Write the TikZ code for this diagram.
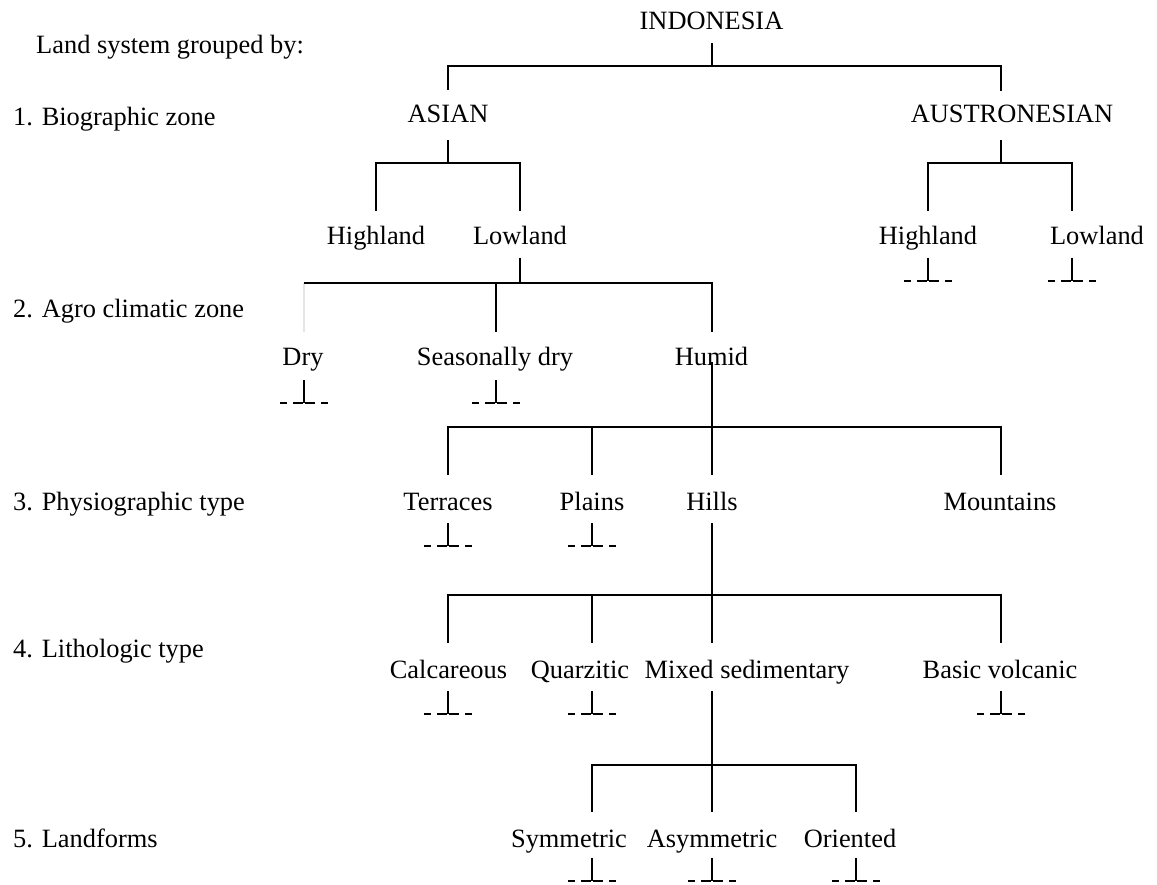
\documentclass[tikz,border=0pt]{standalone}
\usepackage{fontspec}
\setmainfont{Liberation Serif}
\tikzset{
  lbl/.style={anchor=base, inner sep=0pt, font=\fontsize{26.4}{30}\selectfont},
  lblw/.style={lbl, anchor=base west},
  conn/.style={line width=1.8pt, line join=miter},
  tickln/.style={line width=1.4pt},
  faint/.style={line width=1.8pt, draw=black!10}
}
\newcommand{\dashtick}[3]{%
  \coordinate (#1T) at (#2,#3);
  \coordinate (#1B) at (#2,#3+23);
  \coordinate (#1L1) at (#2-24,#3+23);
  \coordinate (#1L2) at (#2-17,#3+23);
  \coordinate (#1L3) at (#2-11,#3+23);
  \coordinate (#1L4) at (#2-1,#3+23);
  \coordinate (#1R4) at (#2+1,#3+23);
  \coordinate (#1R3) at (#2+11,#3+23);
  \coordinate (#1R2) at (#2+17,#3+23);
  \coordinate (#1R1) at (#2+24,#3+23);
  \draw[tickln] (#1T) -- (#1B);
  \draw[tickln] (#1L1) -- (#1L2);
  \draw[tickln] (#1L3) -- (#1L4);
  \draw[tickln] (#1R4) -- (#1R3);
  \draw[tickln] (#1R2) -- (#1R1);
}
\begin{document}
\begin{tikzpicture}[x=1pt,y=-1pt]
\useasboundingbox[fill=white] (0,0) rectangle (1157,885);

% level labels
\node[lblw] (hdr) at (36,54) {Land system grouped by:};
\node[lblw] (lv1) at (13,126) {1. Biographic zone};
\node[lblw] (lv2) at (13,318) {2. Agro climatic zone};
\node[lblw] (lv3) at (13,510) {3. Physiographic type};
\node[lblw] (lv4) at (13,657) {4. Lithologic type};
\node[lblw] (lv5) at (13,847) {5. Landforms};

% tree texts
\node[lbl] (indo) at (711.5,30) {INDONESIA};
\node[lbl] (asian) at (448,123) {ASIAN};
\node[lbl] (austro) at (1012,123) {AUSTRONESIAN};
\node[lbl] (ahigh) at (376,245) {Highland};
\node[lbl] (alow) at (520,245) {Lowland};
\node[lbl] (bhigh) at (928,245) {Highland};
\node[lbl] (blow) at (1097,245) {Lowland};
\node[lbl] (dry) at (303,366) {Dry};
\node[lbl] (sdry) at (495,366) {Seasonally dry};
\node[lbl] (humid) at (711.5,366) {Humid};
\node[lbl] (terr) at (448,510) {Terraces};
\node[lbl] (plains) at (592,510) {Plains};
\node[lbl] (hills) at (712,510) {Hills};
\node[lbl] (mount) at (1000,510) {Mountains};
\node[lbl] (calc) at (448.5,678) {Calcareous};
\node[lbl] (quar) at (580,678) {Quarzitic};
\node[lbl] (mixed) at (747,678) {Mixed sedimentary};
\node[lbl] (basic) at (1000,678) {Basic volcanic};
\node[lbl] (sym) at (569,847) {Symmetric};
\node[lbl] (asym) at (712,847) {Asymmetric};
\node[lbl] (ori) at (850,847) {Oriented};

% INDONESIA -> ASIAN / AUSTRONESIAN
\coordinate (indoS) at (712,43);
\coordinate (j1) at (712,66);
\coordinate (j1a) at (448,66);
\coordinate (j1b) at (1001,66);
\coordinate (asianN) at (448,90);
\coordinate (austroN) at (1001,91);
\draw[conn] (indoS) -- (j1);
\draw[conn] (asianN) -- (j1a) -- (j1b) -- (austroN);

% ASIAN -> Highland / Lowland
\coordinate (asianS) at (448,140);
\coordinate (ja) at (448,163);
\coordinate (ja1) at (376,163);
\coordinate (ja2) at (520,163);
\coordinate (ahighN) at (376,211);
\coordinate (alowN) at (520,211);
\draw[conn] (asianS) -- (ja);
\draw[conn] (ahighN) -- (ja1) -- (ja2) -- (alowN);

% AUSTRONESIAN -> Highland / Lowland
\coordinate (austroS) at (1001,140);
\coordinate (jb) at (1001,163);
\coordinate (jb1) at (928,163);
\coordinate (jb2) at (1072,163);
\coordinate (bhighN) at (928,211);
\coordinate (blowN) at (1072,211);
\draw[conn] (austroS) -- (jb);
\draw[conn] (bhighN) -- (jb1) -- (jb2) -- (blowN);
\dashtick{bhigh}{928}{258}
\dashtick{blow}{1072}{258}

% Lowland -> Dry / Seasonally dry / Humid
\coordinate (alowS) at (520,258);
\coordinate (j2) at (520,283);
\coordinate (j2a) at (304,283);
\coordinate (j2b) at (496,283);
\coordinate (j2c) at (712,283);
\coordinate (dryN) at (304,332);
\coordinate (sdryN) at (496,332);
\coordinate (humidN) at (712,332);
\draw[conn] (alowS) -- (j2);
\draw[faint] (j2a) -- (dryN);
\draw[conn] (j2a) -- (j2c) -- (humidN);
\draw[conn] (j2b) -- (sdryN);
\dashtick{dry}{304}{380}
\dashtick{sdry}{496}{380}

% Humid -> physiographic types
\coordinate (humidS) at (712,362);
\coordinate (j3) at (712,427);
\coordinate (j3a) at (448,427);
\coordinate (j3b) at (592,427);
\coordinate (j3d) at (1001,427);
\coordinate (terrN) at (448,475);
\coordinate (plainsN) at (592,475);
\coordinate (hillsN) at (712,475);
\coordinate (mountN) at (1001,475);
\draw[conn] (humidS) -- (j3) -- (hillsN);
\draw[conn] (terrN) -- (j3a) -- (j3d) -- (mountN);
\draw[conn] (j3b) -- (plainsN);
\dashtick{terr}{448}{523}
\dashtick{plains}{592}{523}

% Hills -> lithologic types
\coordinate (hillsS) at (712,523);
\coordinate (j4) at (712,595);
\coordinate (j4a) at (448,595);
\coordinate (j4b) at (592,595);
\coordinate (j4d) at (1001,595);
\coordinate (calcN) at (448,643);
\coordinate (quarN) at (592,643);
\coordinate (mixedN) at (712,643);
\coordinate (basicN) at (1001,643);
\draw[conn] (hillsS) -- (j4) -- (mixedN);
\draw[conn] (calcN) -- (j4a) -- (j4d) -- (basicN);
\draw[conn] (j4b) -- (quarN);
\dashtick{calc}{448}{691}
\dashtick{quar}{592}{691}
\dashtick{basic}{1001}{691}

% Mixed sedimentary -> landforms
\coordinate (mixedS) at (712,691);
\coordinate (j5) at (712,765);
\coordinate (j5a) at (592,765);
\coordinate (j5c) at (856,765);
\coordinate (symN) at (592,812);
\coordinate (asymN) at (712,812);
\coordinate (oriN) at (856,812);
\draw[conn] (mixedS) -- (j5) -- (asymN);
\draw[conn] (symN) -- (j5a) -- (j5c) -- (oriN);
\dashtick{sym}{592}{858}
\dashtick{asym}{712}{858}
\dashtick{ori}{856}{858}
\end{tikzpicture}
\end{document}
